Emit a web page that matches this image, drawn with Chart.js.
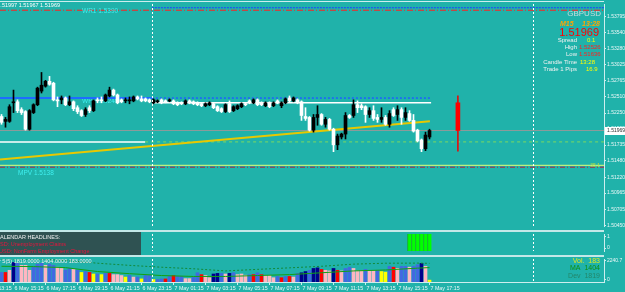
<!DOCTYPE html>
<html><head><meta charset="utf-8"><title>GBPUSD M15</title>
<script src="https://cdn.jsdelivr.net/npm/chart.js@4.4.1/dist/chart.umd.min.js"></script>
<style>
html,body{margin:0;padding:0;background:#20B2AA;width:625px;height:292px;overflow:hidden;}
canvas{position:absolute;left:0;display:block;}
</style></head><body>
<canvas id="main" width="625" height="230" style="top:0"></canvas>
<canvas id="ind" width="625" height="25" style="top:230px"></canvas>
<canvas id="vol" width="625" height="37" style="top:255px"></canvas>
<script>
// ---------------- DATA ----------------
const open = [
1.52194,1.52116,1.52116,1.52414,1.52430,1.52304,1.52273,1.51990,1.52257,1.52383,
1.52602,1.52681,1.52759,1.52728,1.52461,1.52461,1.52492,1.52383,1.52430,1.52335,
1.52288,1.52226,1.52335,1.52288,1.52461,1.52461,1.52445,1.52524,1.52618,1.52540,
1.52461,1.52445,1.52445,1.52445,1.52508,1.52477,1.52477,1.52461,1.52414,1.52430,
1.52461,1.52445,1.52445,1.52445,1.52414,1.52414,1.52398,1.52445,1.52430,1.52414,
1.52398,1.52367,1.52383,1.52398,1.52351,1.52320,1.52273,1.52398,1.52288,1.52320,
1.52351,1.52398,1.52445,1.52414,1.52461,1.52414,1.52367,1.52414,1.52367,1.52445,
1.52367,1.52414,1.52492,1.52445,1.52461,1.52430,1.52194,1.52179,1.51975,1.52179,
1.52226,1.52069,1.52147,1.51990,1.51739,1.51865,1.51912,1.52210,1.52210,1.52383,
1.52367,1.52351,1.52226,1.52288,1.52179,1.52147,1.52179,1.52069,1.52304,1.52226,
1.52304,1.52179,1.52241,1.52131,1.51975,1.51818,1.51676,1.51865];
const high = [
1.52226,1.52179,1.52383,1.52618,1.52461,1.52335,1.52288,1.52304,1.52398,1.52665,
1.52901,1.52775,1.52838,1.52744,1.52508,1.52524,1.52508,1.52524,1.52445,1.52367,
1.52304,1.52335,1.52367,1.52461,1.52492,1.52508,1.52555,1.52665,1.52634,1.52555,
1.52477,1.52492,1.52508,1.52524,1.52524,1.52524,1.52492,1.52477,1.52477,1.52461,
1.52477,1.52461,1.52477,1.52461,1.52430,1.52430,1.52461,1.52461,1.52445,1.52430,
1.52414,1.52414,1.52430,1.52414,1.52367,1.52335,1.52398,1.52445,1.52367,1.52383,
1.52414,1.52414,1.52461,1.52477,1.52477,1.52430,1.52430,1.52430,1.52430,1.52461,
1.52430,1.52492,1.52524,1.52508,1.52477,1.52445,1.52335,1.52194,1.52226,1.52367,
1.52241,1.52179,1.52163,1.52006,1.51912,1.51927,1.52257,1.52226,1.52461,1.52445,
1.52398,1.52367,1.52335,1.52367,1.52226,1.52335,1.52210,1.52288,1.52335,1.52367,
1.52335,1.52335,1.52288,1.52226,1.51990,1.51833,1.51943,1.51990];
const low = [
1.52069,1.52022,1.52100,1.52257,1.52257,1.52226,1.51975,1.51975,1.52241,1.52367,
1.52571,1.52665,1.52696,1.52445,1.52351,1.52398,1.52367,1.52367,1.52288,1.52241,
1.52194,1.52194,1.52257,1.52273,1.52414,1.52414,1.52430,1.52508,1.52524,1.52398,
1.52414,1.52414,1.52398,1.52430,1.52461,1.52430,1.52430,1.52414,1.52398,1.52414,
1.52398,1.52414,1.52430,1.52383,1.52367,1.52383,1.52383,1.52398,1.52383,1.52367,
1.52351,1.52351,1.52367,1.52320,1.52273,1.52257,1.52257,1.52257,1.52273,1.52304,
1.52335,1.52367,1.52398,1.52398,1.52367,1.52367,1.52351,1.52335,1.52351,1.52398,
1.52335,1.52398,1.52430,1.52430,1.52398,1.52131,1.52131,1.51959,1.51943,1.52053,
1.52053,1.52022,1.51975,1.51629,1.51661,1.51833,1.51833,1.52163,1.52179,1.52257,
1.52304,1.52100,1.52179,1.52131,1.52100,1.52100,1.52053,1.52022,1.52194,1.52131,
1.52069,1.52131,1.52116,1.51943,1.51786,1.51629,1.51645,1.51833];
const close = [
1.52100,1.52147,1.52351,1.52430,1.52288,1.52257,1.51990,1.52288,1.52383,1.52649,
1.52696,1.52759,1.52712,1.52461,1.52445,1.52492,1.52383,1.52430,1.52320,1.52273,
1.52210,1.52304,1.52288,1.52445,1.52445,1.52445,1.52540,1.52618,1.52540,1.52414,
1.52430,1.52461,1.52461,1.52508,1.52477,1.52445,1.52445,1.52430,1.52461,1.52445,
1.52414,1.52430,1.52461,1.52398,1.52383,1.52398,1.52445,1.52414,1.52398,1.52383,
1.52367,1.52398,1.52414,1.52335,1.52288,1.52273,1.52383,1.52273,1.52351,1.52367,
1.52398,1.52383,1.52414,1.52461,1.52383,1.52383,1.52414,1.52351,1.52414,1.52414,
1.52414,1.52477,1.52445,1.52492,1.52414,1.52210,1.52163,1.51975,1.52179,1.52226,
1.52069,1.52147,1.51990,1.51739,1.51880,1.51912,1.52210,1.52179,1.52383,1.52335,
1.52335,1.52226,1.52288,1.52163,1.52147,1.52179,1.52069,1.52241,1.52210,1.52304,
1.52179,1.52257,1.52131,1.51959,1.51802,1.51676,1.51896,1.51969];

const volume = [
930,930,1140,1900,1820,1620,1620,1140,1500,1740,
1820,1620,1740,1620,1440,1320,1140,1320,1230,1140,
930,1020,930,780,780,720,840,840,720,720,
630,480,630,480,480,300,630,630,240,240,
300,300,540,630,540,540,330,330,480,900,
720,630,420,780,840,840,780,840,900,720,
780,660,720,720,900,720,630,630,420,540,
420,540,540,480,840,900,1020,1140,1320,1380,
1230,1140,1080,1320,1140,1080,1320,1440,1320,1080,
1080,1230,1080,1080,1140,1020,960,1530,1440,1320,
1530,1530,1440,1530,1680,1820,1530,183];
const volumeClass = ("brpnbpppbb"+"bpbbppbbpb"+"ybrybybrpp"+"pybpbybbyb"+"brbrbbppbb"+
  "rppnnbpnbp"+"ppbrbrpppb"+"rbrpbnnbnn"+"rppnrpbbpp"+"pbppbyybrp"+"bbpbbnpy").split('');
const maBars   = [0,8,16,24,32,40,48,56,64,72,80,88,96,104,107];
const maValues = [1530,1500,1400,1020,810,630,540,540,630,720,900,1080,1170,1350,1404];
const devValues= [2240,2240,2100,1830,1620,1440,1290,1080,1230,1380,1530,1740,1830,1840,1819];

const signalBars   = [102,103,104,105,106,107];
const signalValues = [1,1,1,1,1,1];

const dayCandle = {x:114.1, open:1.52414, high:1.52526, low:1.51636, close:1.51969};
const bidPrice = 1.51969;
const trendBars = [-0.375, 107.1];
const trendValues = [1.51503, 1.52116];
const separatorBars = [37.7, 132.9];

const priceTicks = [1.53795,1.53540,1.53280,1.53025,1.52765,1.52510,1.52250,1.51995,1.51735,1.51480,1.51220,1.50965,1.50705,1.50450];
const timeTickBars = [-5,3,11,19,27,35,43,51,59,67,75,83,91,99,107];
const timeLabels = ['6 May 13:15','6 May 15:15','6 May 17:15','6 May 19:15','6 May 21:15','6 May 23:15',
  '7 May 01:15','7 May 03:15','7 May 05:15','7 May 07:15','7 May 09:15','7 May 11:15','7 May 13:15','7 May 15:15','7 May 17:15'];
const volTicks = [0, 2240.7];
const sigTicks = [0, 1];

const X_MIN = -0.375, X_MAX = 150.625;
const levelWR1 = 1.5390, levelTopBlue = 1.5394, levelWPP = 1.5249, levelMPV = 1.5138, levelMPVg = 1.5141;
const levelPrevClose = 1.51786, levelDayOpen = 1.52414;

// ---------------- RENDER ----------------
const FONT = '"Liberation Sans", Arial, sans-serif';
Chart.defaults.font.family = FONT;
const AXIS = '#cdeeee', LBL = '#eaf7f7';
const idx = open.map((_, i) => i);
const candleColor = idx.map(i => close[i] >= open[i] ? '#000000' : '#ffffff');
const volPalette = {b:'#4169E1', p:'#FFB6C1', n:'#00008B', r:'#FF0000', y:'#FFFF00'};
const shownTicks = timeTickBars.map((k, i) => ({k, label:timeLabels[i]})).filter(t => t.k >= X_MIN);
const hiddenTicks = timeTickBars.map((k, i) => ({k, label:timeLabels[i]})).filter(t => t.k < X_MIN);

function hline(v, a, b, color, width, dash, order) {
  return {type:'line', data:[{x:a, y:v},{x:b, y:v}], borderColor:color, borderWidth:width,
    borderDash:dash || [], pointRadius:0, fill:false, order:order || 6};
}
function drawSeps(chart) {
  const {ctx, chartArea:a, scales:{x}} = chart;
  ctx.save(); ctx.strokeStyle = '#ffffff'; ctx.lineWidth = 1; ctx.setLineDash([2,2]);
  separatorBars.forEach(k => { const px = Math.floor(x.getPixelForValue(k)) + 0.5;
    ctx.beginPath(); ctx.moveTo(px, a.top); ctx.lineTo(px, a.bottom); ctx.stroke(); });
  ctx.restore();
}
function txt(ctx, s, x, y, color, size, align, weight) {
  ctx.font = (weight ? weight + ' ' : '') + size + 'px ' + FONT;
  ctx.fillStyle = color; ctx.textAlign = align || 'left'; ctx.textBaseline = 'alphabetic';
  ctx.fillText(s, x, y);
}
const fixedWidth = s => { s.width = 21; };
const xHidden = {type:'linear', min:X_MIN, max:X_MAX, offset:false, display:false, grid:{display:false}};

const mainDeco = {
  id:'mainDeco',
  beforeDatasetsDraw(chart) {
    const ctx = chart.ctx; ctx.save();
    txt(ctx, 'WPP ' + levelWPP.toFixed(4), 82, 103, '#3ff0f0', 6.5);
    ctx.restore();
  },
  afterDraw(chart) {
    const ctx = chart.ctx, y = chart.scales.y; ctx.save();
    drawSeps(chart);
    ctx.fillStyle = AXIS; ctx.fillRect(0, 1, 604, 1);
    txt(ctx, 'GBPUSD,M15  1.51992 1.51997 1.51967 1.51969', 60, 7, '#ffffff', 5.5, 'right');
    txt(ctx, 'WR1 ' + levelWR1.toFixed(4), 82, 13, '#3ff0f0', 6.5);
    txt(ctx, 'MPV ' + levelMPV.toFixed(4), 18, 175, '#3ff0f0', 6.5);
    txt(ctx, '35.1', 600, 167, '#b8e040', 5, 'right');
    const yb = y.getPixelForValue(bidPrice);
    ctx.fillStyle = '#ffffff'; ctx.fillRect(605, Math.round(yb) - 4, 20, 8);
    ctx.font = '5px ' + FONT; ctx.fillStyle = '#303030'; ctx.textAlign = 'left'; ctx.textBaseline = 'middle';
    ctx.fillText(bidPrice.toFixed(5), 607, yb);
    txt(ctx, 'GBPUSD', 601, 16, '#c9dcdc', 8, 'right');
    txt(ctx, 'M15', 560, 26, '#FFA500', 7, 'left', 'italic bold');
    txt(ctx, '13:28', 600, 26, '#FFA500', 7, 'right', 'italic bold');
    txt(ctx, bidPrice.toFixed(5), 599, 36, '#FF0000', 11, 'right');
    const rows = [['Spread','0.1','#FFFF00',42,587],['High',dayCandle.high.toFixed(5),'#FF2020',49,579],
      ['Low',dayCandle.low.toFixed(5),'#FF2020',56,579],['Candle Time','13:28','#FFFF00',64,580],['Trade 1 Pips','16.9','#FFFF00',71,586]];
    rows.forEach(r => { txt(ctx, r[0], 577, r[3], '#f2f2f2', 6, 'right'); txt(ctx, r[1], r[4], r[3], r[2], 6, 'left'); });
    ctx.restore();
  }
};

new Chart(document.getElementById('main'), {
  type:'bar',
  data:{datasets:[
    {type:'bar', data: idx.map(i => ({x:i, y:[open[i], close[i]]})), backgroundColor:candleColor, barThickness:3, minBarLength:1, grouped:false, order:1},
    {type:'bar', data: idx.map(i => ({x:i, y:[low[i], high[i]]})), backgroundColor:candleColor, barThickness:1, grouped:false, order:2},
    {type:'bar', data:[{x:dayCandle.x, y:[dayCandle.open, dayCandle.close]}], backgroundColor:'#FF0000', barThickness:4, grouped:false, order:1},
    {type:'bar', data:[{x:dayCandle.x, y:[dayCandle.low, dayCandle.high]}], backgroundColor:'#E01010', barThickness:1, grouped:false, order:2},
    hline(levelWR1, X_MIN, X_MAX, '#FF2020', 1, [6,2,1,2]),
    hline(levelTopBlue, 37.6, X_MAX, '#1E40FF', 1, [2,1]),
    hline(levelWPP, X_MIN, 37.6, '#1E6CFF', 2),
    hline(levelWPP, 37.6, 107.4, '#1E60FF', 1.5, [2,2]),
    hline(levelDayOpen, 37.6, 107.4, '#FFFFFF', 1.5),
    hline(levelPrevClose, X_MIN, 35.9, '#FFFFFF', 1.5),
    hline(levelPrevClose, 35.9, X_MAX, '#7CD860', 1, [3,3]),
    hline(bidPrice, X_MIN, X_MAX, '#8C9A9A', 1),
    hline(levelMPVg, X_MIN, X_MAX, '#B8F080', 1.2),
    hline(levelMPV, X_MIN, X_MAX, '#B02040', 1, [5,2,1,2]),
    {type:'line', data: trendBars.map((k, i) => ({x:k, y:trendValues[i]})), borderColor:'#E8C800', borderWidth:2, pointRadius:0, fill:false, order:4}
  ]},
  options:{
    responsive:false, devicePixelRatio:1, animation:false, events:[],
    layout:{padding:{top:2, bottom:1, left:0, right:0}, autoPadding:false},
    plugins:{legend:{display:false}, tooltip:{enabled:false}},
    scales:{
      x: xHidden,
      y:{position:'right', min:1.50436, max:1.54000,
        afterBuildTicks:s => { s.ticks = priceTicks.map(v => ({value:v})); },
        afterFit: fixedWidth,
        ticks:{autoSkip:false, color:LBL, font:{size:5}, padding:1, callback:v => Number(v).toFixed(5)},
        grid:{drawOnChartArea:false, drawTicks:true, tickLength:2, color:AXIS},
        border:{display:true, color:AXIS, width:1}}
    }
  },
  plugins:[mainDeco]
});

// ---- indicator panel ----
const indDeco = {
  id:'indDeco',
  afterDraw(chart) {
    const ctx = chart.ctx; ctx.save();
    drawSeps(chart);
    ctx.fillStyle = '#c3e8e8'; ctx.fillRect(0, 0, 604, 2);
    ctx.fillStyle = '#2F5252'; ctx.fillRect(0, 2, 141, 23);
    txt(ctx, 'CALENDAR HEADLINES:', -4, 9, '#f0f0f0', 5.5);
    txt(ctx, 'USD: Unemployment Claims', -4, 16, '#E8143C', 5.5);
    txt(ctx, 'USD: NonFarm Employment Change', -1, 23, '#E8143C', 5.5);
    ctx.restore();
  }
};
new Chart(document.getElementById('ind'), {
  type:'bar',
  data:{datasets:[
    {type:'bar', data: signalBars.map((k, i) => ({x:k, y:signalValues[i]})), backgroundColor:'#00FF00',
     borderColor:'#1AB01A', borderWidth:{left:1, right:0, top:0, bottom:0}, borderSkipped:false, barThickness:4, grouped:false, yAxisID:'y'}
  ]},
  options:{
    responsive:false, devicePixelRatio:1, animation:false, events:[],
    layout:{padding:{top:2, bottom:0, left:0, right:0}, autoPadding:false},
    plugins:{legend:{display:false}, tooltip:{enabled:false}},
    scales:{
      x: xHidden,
      y:{display:false, min:0, max:1},
      yl:{position:'right', min:-0.25, max:1.1875,
        afterBuildTicks:s => { s.ticks = sigTicks.map(v => ({value:v})); },
        afterFit: fixedWidth,
        ticks:{autoSkip:false, color:LBL, font:{size:5}, padding:1, callback:v => String(v)},
        grid:{drawOnChartArea:false, drawTicks:true, tickLength:2, color:AXIS},
        border:{display:true, color:AXIS, width:1}}
    }
  },
  plugins:[indDeco]
});

// ---- volume panel ----
const volDeco = {
  id:'volDeco',
  afterDraw(chart) {
    const ctx = chart.ctx, x = chart.scales.x; ctx.save();
    drawSeps(chart);
    ctx.fillStyle = '#c3e8e8'; ctx.fillRect(0, 0, 604, 2);
    txt(ctx, 'r 5(5) 1819.0000 1404.0000 183.0000', -1, 8, '#f0f0f0', 5.5);
    txt(ctx, 'Vol.  ' + volume[volume.length - 1], 600, 8, '#E0E820', 7, 'right');
    txt(ctx, 'MA  ' + maValues[maValues.length - 1], 600, 15, '#0E900E', 7, 'right');
    txt(ctx, 'Dev  ' + devValues[devValues.length - 1], 600, 23, '#23876A', 7, 'right');
    // time labels whose bar lies left of the visible window (cut at the edge)
    hiddenTicks.forEach(t => txt(ctx, t.label, x.getPixelForValue(t.k) + 1, chart.chartArea.bottom + 8, LBL, 5.3));
    ctx.restore();
  }
};
new Chart(document.getElementById('vol'), {
  type:'bar',
  data:{datasets:[
    {type:'bar', data: idx.map(i => ({x:i, y:volume[i]})), backgroundColor: volumeClass.map(c => volPalette[c]), barThickness:3, grouped:false, yAxisID:'y', order:3},
    {type:'line', data: maBars.map((k, i) => ({x:k, y:maValues[i]})), borderColor:'#12A012', borderWidth:1, pointRadius:0, fill:false, yAxisID:'y', order:1},
    {type:'line', data: maBars.map((k, i) => ({x:k, y:devValues[i]})), borderColor:'#128A3A', borderWidth:1, borderDash:[2,2], pointRadius:0, fill:false, yAxisID:'y', order:1}
  ]},
  options:{
    responsive:false, devicePixelRatio:1, animation:false, events:[],
    layout:{padding:{top:2, bottom:0, left:0, right:0}, autoPadding:false},
    plugins:{legend:{display:false}, tooltip:{enabled:false}},
    scales:{
      x:{type:'linear', min:X_MIN, max:X_MAX, offset:false, position:'bottom',
        afterBuildTicks:s => { s.ticks = shownTicks.map(t => ({value:t.k})); },
        afterFit:s => { s.height = 10; },
        ticks:{autoSkip:false, maxRotation:0, minRotation:0, align:'start', labelOffset:1, padding:0, color:LBL, font:{size:5.3},
          callback:(v, i) => shownTicks[i].label},
        grid:{drawOnChartArea:false, drawTicks:true, tickLength:3, color:AXIS, offset:false},
        border:{display:true, color:AXIS, width:1}},
      y:{display:false, min:0, max:2240.7},
      yl:{position:'right', min:-336.1, max:2464.8,
        afterBuildTicks:s => { s.ticks = volTicks.map(v => ({value:v})); },
        afterFit: fixedWidth,
        ticks:{autoSkip:false, color:LBL, font:{size:5}, padding:1, callback:v => v === 0 ? '0' : Number(v).toFixed(1)},
        grid:{drawOnChartArea:false, drawTicks:true, tickLength:2, color:AXIS},
        border:{display:true, color:AXIS, width:1}}
    }
  },
  plugins:[volDeco]
});
</script></body></html>
